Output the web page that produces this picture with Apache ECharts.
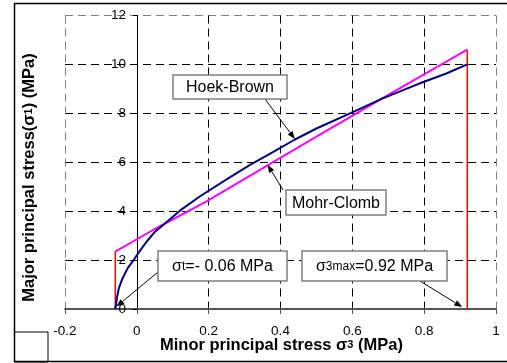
<!DOCTYPE html>
<html>
<head>
<meta charset="utf-8">
<script src="https://cdn.jsdelivr.net/npm/echarts@6/dist/echarts.min.js"></script>
<style>
  html, body { margin: 0; padding: 0; background: #fff; }
  #chart { width: 507px; height: 363px; }
</style>
</head>
<body>
<div id="chart"></div>
<script>
// Hoek-Brown envelope
const hoekX = [-0.06, -0.055, -0.05, -0.04, -0.025, -0.01, 0, 0.027, 0.05, 0.083, 0.12, 0.175, 0.25, 0.314, 0.38, 0.439, 0.5, 0.592, 0.683, 0.75, 0.794, 0.86, 0.92];
const hoekY = [0, 0.5, 0.85, 1.25, 1.68, 1.98, 2.2, 2.75, 3.15, 3.56, 4.02, 4.6, 5.3, 5.88, 6.42, 6.92, 7.38, 7.99, 8.6, 9.0, 9.26, 9.62, 10.0];

// Mohr-Coulomb fit
const mohrX = [-0.06, 0.045, 0.193, 0.286, 0.5, 0.7, 0.92];
const mohrY = [2.35, 3.23, 4.39, 5.2, 7.05, 8.75, 10.6];

// cut-off lines
const sigmaT = -0.06;
const sigma3max = 0.92;
const tensileTop = 2.35;
const maxTop = 10.6;

const FONT = "'Liberation Sans', Arial, sans-serif";

function pairs(xs, ys) {
  return xs.map((x, i) => [x, ys[i]]);
}

const chart = echarts.init(document.getElementById('chart'));

const option = {
  animation: false,
  grid: { left: 65, right: 11, top: 15.5, bottom: 54, containLabel: false },
  xAxis: {
    type: 'value',
    min: -0.2,
    max: 1,
    interval: 0.2,
    axisLine: { onZero: false, lineStyle: { color: '#555', width: 2 } },
    axisTick: { show: true, length: 5, lineStyle: { color: '#555' } },
    axisLabel: { color: '#000', fontSize: 13.5, fontFamily: FONT, margin: 15 },
    splitLine: {
      show: true,
      lineStyle: {
        type: [8, 5],
        width: 1,
        color: ['#808080', '#000', '#000', '#000', '#000', '#000', '#808080']
      }
    }
  },
  yAxis: {
    type: 'value',
    min: 0,
    max: 12,
    interval: 2,
    offset: -72, // axis drawn at sigma3 = 0
    axisLine: { show: true, onZero: false, lineStyle: { color: '#000', width: 1 } },
    axisTick: { show: true, length: 4, lineStyle: { color: '#000' } },
    axisLabel: { color: '#000', fontSize: 13.5, fontFamily: FONT, margin: 11 },
    splitLine: {
      show: true,
      lineStyle: {
        type: [8, 5],
        width: 1,
        color: ['#000', '#000', '#000', '#000', '#000', '#000', '#808080']
      }
    }
  },
  series: [
    {
      name: 'Mohr-Clomb',
      type: 'line',
      data: pairs(mohrX, mohrY),
      showSymbol: false,
      lineStyle: { color: '#ff00ff', width: 2 },
      z: 3
    },
    {
      name: 'Hoek-Brown',
      type: 'line',
      data: pairs(hoekX, hoekY),
      showSymbol: false,
      lineStyle: { color: '#000080', width: 2 },
      z: 4
    },
    {
      name: 'tension cut-off',
      type: 'line',
      data: [[sigmaT, 0], [sigmaT, tensileTop]],
      showSymbol: false,
      lineStyle: { color: '#ff0000', width: 1.5 },
      z: 2
    },
    {
      name: 'sigma3 max',
      type: 'line',
      data: [[sigma3max, 0], [sigma3max, maxTop]],
      showSymbol: false,
      lineStyle: { color: '#ff0000', width: 1.5 },
      z: 2
    }
  ]
};

chart.setOption(option);

// labels with arrows: box in pixels, arrow tip on the data
const notes = [
  { text: 'Hoek-Brown', box: [173, 75, 114, 24], from: [265, 99], tip: [0.44, 6.95] },
  { text: 'Mohr-Clomb', box: [286, 190, 100, 25], from: [283, 190], tip: [0.364, 5.9] },
  { text: 'σ{s|t}=- 0.06 MPa', box: [158, 251, 129, 30], from: [158, 272], tip: [-0.057, 0.1] },
  { text: 'σ{s|3max}=0.92 MPa', box: [302, 251, 145, 30], from: [420, 281], tip: [0.906, 0.08] }
];

function arrowShapes(from, to) {
  const dx = to[0] - from[0];
  const dy = to[1] - from[1];
  const len = Math.sqrt(dx * dx + dy * dy);
  const ux = dx / len, uy = dy / len;
  const hl = 8, hw = 3;
  const bx = to[0] - ux * hl, by = to[1] - uy * hl;
  return [
    {
      type: 'line',
      shape: { x1: from[0], y1: from[1], x2: bx, y2: by },
      style: { stroke: '#000', lineWidth: 1 },
      z: 10
    },
    {
      type: 'polygon',
      shape: { points: [to, [bx - uy * hw, by + ux * hw], [bx + uy * hw, by - ux * hw]] },
      style: { fill: '#000' },
      z: 10
    }
  ];
}

const graphics = [];

// outer frame and the small empty box
graphics.push({
  type: 'rect',
  shape: { x: 14.5, y: 3.5, width: 500, height: 358 },
  style: { fill: 'none', stroke: '#000', lineWidth: 1.5 },
  silent: true
});
graphics.push({
  type: 'rect',
  shape: { x: 14.5, y: 332, width: 33.5, height: 30 },
  style: { fill: 'none', stroke: '#000', lineWidth: 1 },
  silent: true
});

notes.forEach(n => {
  const tip = chart.convertToPixel({ gridIndex: 0 }, n.tip);
  arrowShapes(n.from, tip).forEach(g => graphics.push(g));
  graphics.push({
    type: 'rect',
    shape: { x: n.box[0], y: n.box[1], width: n.box[2], height: n.box[3] },
    style: { fill: '#fff', stroke: '#808080', lineWidth: 1.5 },
    z: 11
  });
  graphics.push({
    type: 'text',
    x: n.box[0] + n.box[2] / 2,
    y: n.box[1] + n.box[3] / 2 + 1,
    style: {
      text: n.text,
      fill: '#000',
      font: '16px ' + FONT,
      align: 'center',
      verticalAlign: 'middle',
      rich: { s: { fontSize: 12, fontFamily: FONT, fill: '#000' } }
    },
    z: 12
  });
});

// axis titles
graphics.push({
  type: 'text',
  x: 281.5,
  y: 345,
  style: {
    text: 'Minor principal stress σ{s|3} (MPa)',
    fill: '#000',
    font: 'bold 16.5px ' + FONT,
    align: 'center',
    verticalAlign: 'middle',
    rich: { s: { fontSize: 11, fontWeight: 'bold', fontFamily: FONT, fill: '#000' } }
  },
  z: 12
});
graphics.push({
  type: 'text',
  x: 29,
  y: 177.5,
  rotation: Math.PI / 2,
  style: {
    text: 'Major principal stress(σ{s|1}) (MPa)',
    fill: '#000',
    font: 'bold 16.5px ' + FONT,
    align: 'center',
    verticalAlign: 'middle',
    rich: { s: { fontSize: 11, fontWeight: 'bold', fontFamily: FONT, fill: '#000' } }
  },
  z: 12
});

chart.setOption({ graphic: graphics });
</script>
</body>
</html>
